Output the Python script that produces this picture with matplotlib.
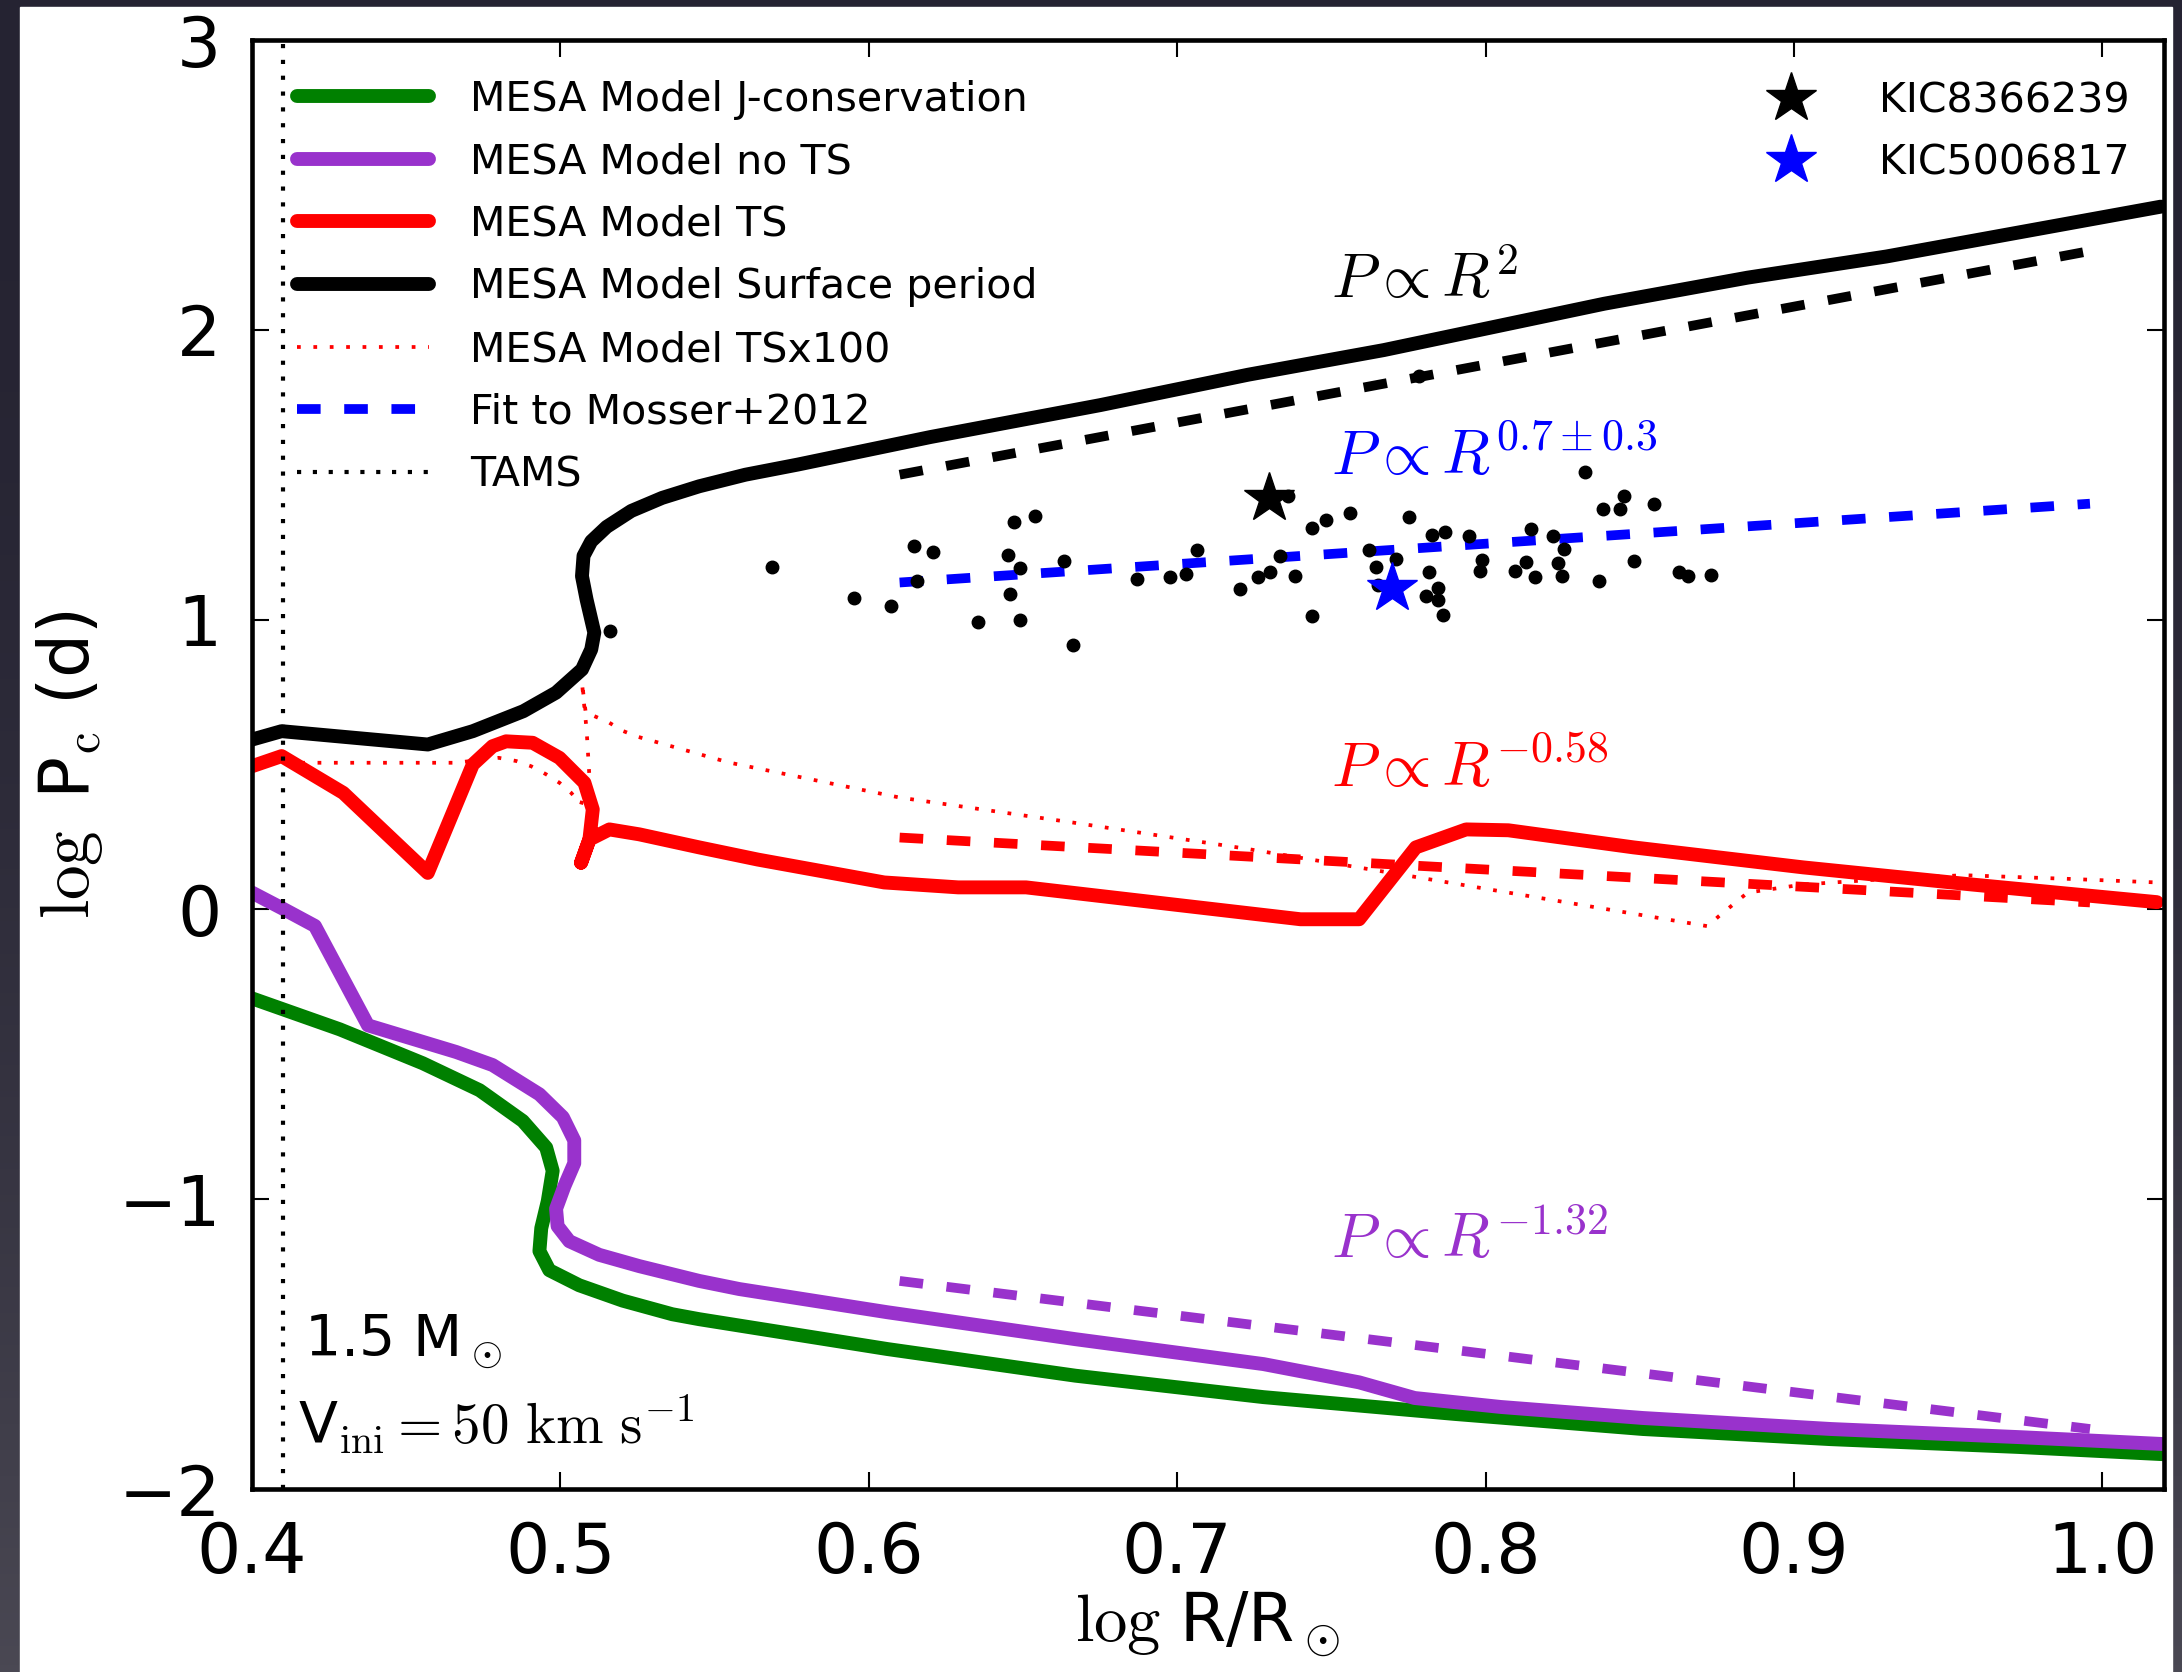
import matplotlib
matplotlib.use("Agg")
import matplotlib.pyplot as plt
import numpy as np
from matplotlib.patches import Rectangle
from matplotlib.colors import LinearSegmentedColormap

plt.rcParams['mathtext.fontset'] = 'cm'
plt.rcParams['lines.scale_dashes'] = False

# --- MESA tracks: log R/Rsun vs log P (d) ---
jc_x = [0.400, 0.4285, 0.4554, 0.4738, 0.4878, 0.4954, 0.4975, 0.4959, 0.4938, 0.4932, 0.4964, 0.5061,
        0.5202, 0.5363, 0.545, 0.558, 0.606, 0.667, 0.728, 0.790, 0.851, 0.912, 0.973, 1.02]
jc_y = [-0.307, -0.414, -0.531, -0.624, -0.730, -0.822, -0.902, -1.007, -1.100, -1.179, -1.245, -1.297,
        -1.350, -1.397, -1.414, -1.436, -1.517, -1.609, -1.683, -1.741, -1.793, -1.828, -1.855, -1.880]

nots_x = [0.400, 0.410, 0.4204, 0.4376, 0.4662, 0.478, 0.4932, 0.5008, 0.5045, 0.5045, 0.5013, 0.4986,
          0.4991, 0.5029, 0.5126, 0.5256, 0.545, 0.558, 0.606, 0.667, 0.728, 0.759, 0.777, 0.805,
          0.851, 0.912, 0.973, 1.02]
nots_y = [0.058, 0.0025, -0.057, -0.40, -0.492, -0.537, -0.638, -0.717, -0.797, -0.876, -0.955, -1.033,
          -1.093, -1.145, -1.192, -1.231, -1.282, -1.31, -1.39, -1.483, -1.569, -1.632, -1.686, -1.717,
          -1.755, -1.793, -1.821, -1.845]

ts_x = [0.400, 0.4096, 0.4296, 0.457, 0.4716, 0.478, 0.4824, 0.491, 0.4997, 0.5078, 0.5105, 0.5094,
        0.5067, 0.5094, 0.5159, 0.5256, 0.545, 0.564, 0.605, 0.629, 0.651, 0.740, 0.759, 0.7774,
        0.7937, 0.8074, 0.848, 0.903, 0.9576, 1.0177]
ts_y = [0.494, 0.529, 0.402, 0.126, 0.500, 0.563, 0.580, 0.575, 0.523, 0.437, 0.345, 0.241,
        0.161, 0.241, 0.276, 0.259, 0.214, 0.172, 0.093, 0.076, 0.076, -0.034, -0.034, 0.214,
        0.276, 0.273, 0.214, 0.145, 0.086, 0.025]

surf_x = [0.400, 0.4096, 0.457, 0.4716, 0.488, 0.4986, 0.507, 0.510, 0.511, 0.5085, 0.507, 0.5075,
          0.510, 0.515, 0.523, 0.533, 0.545, 0.560, 0.577, 0.620, 0.675, 0.723, 0.767, 0.8385,
          0.885, 0.930, 1.019]
surf_y = [0.586, 0.615, 0.569, 0.615, 0.684, 0.748, 0.828, 0.897, 0.955, 1.069, 1.15, 1.22,
          1.27, 1.32, 1.375, 1.42, 1.46, 1.50, 1.535, 1.63, 1.74, 1.845, 1.93, 2.09,
          2.18, 2.253, 2.425]

tsx_x = [0.400, 0.466, 0.480, 0.4857, 0.4905, 0.4954, 0.4997, 0.5035, 0.5067, 0.5094, 0.5085, 0.507,
         0.5083, 0.511, 0.5159, 0.520, 0.525, 0.5546, 0.610, 0.666, 0.722, 0.7756, 0.872, 0.8757,
         0.885, 0.903, 0.93, 0.955, 0.99, 1.02]
tsx_y = [0.506, 0.506, 0.523, 0.512, 0.494, 0.466, 0.437, 0.402, 0.362, 0.460, 0.620, 0.782,
         0.672, 0.667, 0.644, 0.617, 0.596, 0.507, 0.386, 0.300, 0.210, 0.115, -0.058, -0.023,
         0.058, 0.086, 0.105, 0.118, 0.105, 0.092]

tams_logr = 0.41

# power-law fits, end points
fit_x = [0.61, 0.996]
fit_r2 = [1.50, 2.272]        # P ~ R^2
fit_mosser = [1.128, 1.40]    # P ~ R^0.7
fit_ts = [0.248, 0.024]       # P ~ R^-0.58
fit_nots = [-1.282, -1.793]   # P ~ R^-1.32

# Mosser+2012 core periods
ms_x = [0.516, 0.5685, 0.5953, 0.6073, 0.6146, 0.6208, 0.6157, 0.6353, 0.6459, 0.6451,
        0.6491, 0.6471, 0.6538, 0.6491, 0.6632, 0.6661, 0.6871, 0.6977, 0.7028, 0.7063,
        0.7204, 0.7263, 0.7302, 0.7335, 0.7381, 0.7361, 0.7436, 0.7483, 0.7436, 0.7561,
        0.7622, 0.7645, 0.7710, 0.7651, 0.7753, 0.7818, 0.7826, 0.7867, 0.7847, 0.7806,
        0.7847, 0.7861, 0.7945, 0.7989, 0.7981, 0.8096, 0.8130, 0.8161, 0.8149, 0.8220,
        0.8253, 0.8234, 0.8247, 0.8322, 0.8367, 0.8381, 0.8436, 0.8450, 0.8483, 0.8547,
        0.8626, 0.8655, 0.8730, 0.7785]
ms_y = [0.959, 1.18, 1.075, 1.048, 1.255, 1.232, 1.132, 0.991, 1.090, 1.222,
        1.178, 1.337, 1.356, 1.000, 1.202, 0.914, 1.140, 1.146, 1.159, 1.241,
        1.106, 1.146, 1.163, 1.218, 1.149, 1.425, 1.316, 1.345, 1.014, 1.368,
        1.241, 1.182, 1.209, 1.121, 1.353, 1.163, 1.293, 1.302, 1.109, 1.080,
        1.069, 1.017, 1.290, 1.207, 1.167, 1.167, 1.198, 1.146, 1.314, 1.290,
        1.245, 1.195, 1.149, 1.511, 1.132, 1.382, 1.382, 1.425, 1.201, 1.400,
        1.163, 1.149, 1.153, 1.839]

kic_names = ['KIC8366239', 'KIC5006817']
kic_x = [0.7298, 0.7698]
kic_y = [1.42, 1.109]
kic_colors = ['black', 'blue']

W, H = 2182, 1672
fig = plt.figure(figsize=(W / 100, H / 100), dpi=100)

# dark slide background with white page
bg = fig.add_axes([0, 0, 1, 1], zorder=-10)
grad = np.linspace(0, 1, 256)[:, None] ** 2
bg.imshow(grad, aspect='auto', extent=[0, W, 0, H],
          cmap=LinearSegmentedColormap.from_list('slide', ['#252332', '#4a4853']))
bg.add_patch(Rectangle((20, 0), 2152, H - 7, color='white'))
bg.set_xlim(0, W)
bg.set_ylim(0, H)
bg.axis('off')

ax = fig.add_axes([252 / W, 1 - 1489 / H, (2164 - 252) / W, (1489 - 40) / H])

LW = 10
DLW = 7
DASH = (17, 17)
h_jc, = ax.plot(jc_x, jc_y, color='green', lw=LW, solid_capstyle='round', label='MESA Model J-conservation')
h_nots, = ax.plot(nots_x, nots_y, color='darkorchid', lw=LW, solid_capstyle='round', label='MESA Model no TS')
h_ts, = ax.plot(ts_x, ts_y, color='red', lw=LW, solid_capstyle='round', label='MESA Model TS')
h_surf, = ax.plot(surf_x, surf_y, color='black', lw=LW, solid_capstyle='round', label='MESA Model Surface period')
h_tsx, = ax.plot(tsx_x, tsx_y, color='red', lw=2.7, dashes=(2.7, 9.1), label='MESA Model TSx100')
h_fit, = ax.plot(fit_x, fit_mosser, color='blue', lw=DLW, dashes=DASH, label='Fit to Mosser+2012')
h_tams = ax.axvline(tams_logr, color='black', lw=3, dashes=(3, 8.4), label='TAMS')

ax.plot(fit_x, fit_r2, color='black', lw=DLW, dashes=DASH)
ax.plot(fit_x, fit_ts, color='red', lw=DLW, dashes=DASH)
ax.plot(fit_x, fit_nots, color='darkorchid', lw=DLW, dashes=DASH)

ax.plot(ms_x, ms_y, 'o', color='black', ms=9, zorder=4)

star_handles = []
for name, x, y, c in zip(kic_names, kic_x, kic_y, kic_colors):
    h, = ax.plot([x], [y], '*', color=c, mec=c, ms=38, zorder=5, label=name)
    star_handles.append(h)

fs_ann = 45
ax.text(0.75, 2.11, r'$P\propto R^2$', fontsize=fs_ann, color='black', va='baseline')
ax.text(0.75, 1.50, r'$P\propto R^{0.7\pm0.3}$', fontsize=fs_ann, color='blue', va='baseline')
ax.text(0.75, 0.424, r'$P\propto R^{-0.58}$', fontsize=fs_ann, color='red', va='baseline')
ax.text(0.75, -1.205, r'$P\propto R^{-1.32}$', fontsize=fs_ann, color='darkorchid', va='baseline')

ax.text(0.4167, -1.54, r'1.5 M$_\odot$', fontsize=41, va='baseline')
ax.text(0.415, -1.845, r'V$_{\rm ini}=50\ {\rm km\ s^{-1}}$', fontsize=41, va='baseline')

leg1 = ax.legend(handles=[h_jc, h_nots, h_ts, h_surf, h_tsx, h_fit, h_tams],
                 loc='upper left', bbox_to_anchor=(0.015, 0.984), borderaxespad=0,
                 frameon=False, fontsize=29.6, handlelength=3.2, handletextpad=1.0,
                 labelspacing=0.55)
ax.add_artist(leg1)
ax.legend(handles=star_handles, loc='upper right', bbox_to_anchor=(0.9906, 0.983),
          borderaxespad=0, frameon=False, fontsize=29.6, numpoints=1,
          handlelength=2, handletextpad=1.15, labelspacing=0.55)

ax.set_xlim(0.4, 1.02)
ax.set_ylim(-2, 3)
ax.set_xticks([0.4, 0.5, 0.6, 0.7, 0.8, 0.9, 1.0])
ax.set_yticks([-2, -1, 0, 1, 2, 3])
ax.tick_params(direction='in', length=12, width=1.5, pad=22, labelsize=50,
               top=True, right=True)
for sp in ax.spines.values():
    sp.set_linewidth(3.3)

ax.set_xlabel(r'$\log\,$R/R$_\odot$', fontsize=48, labelpad=2)
ax.set_ylabel(r'$\log$ P$_{\rm c}$ (d)', fontsize=50, labelpad=10)

fig.savefig('out.png', dpi=100)
